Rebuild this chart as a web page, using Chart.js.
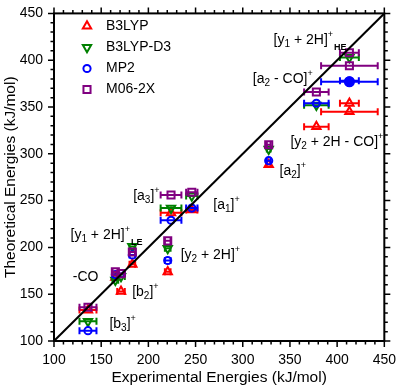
<!DOCTYPE html>
<html><head><meta charset="utf-8">
<script src="https://cdn.jsdelivr.net/npm/chart.js@4.4.0/dist/chart.umd.min.js"></script>
<style>html,body{margin:0;padding:0;background:#fff;}</style>
</head><body>
<canvas id="c" width="401" height="388" style="display:block;width:401px;height:388px"></canvas>
<script>
// ---- data ----
const fragments = ['[b3]+', '-CO', '[b2]+', '[y1 + 2H]+ LE', '[y2 + 2H]+', '[a3]+', '[a1]+', '[a2]+', '[a2 - CO]+', '[y2 + 2H - CO]+', '[y1 + 2H]+ HE'];
const expEnergy = [136, 165, 171, 183, 220.5, 224, 246, 327.5, 378, 413, 413];
const expError  = [9, 3, 4, 3, 3, 11, 6, 2, 13, 30, 10];
const b3lyp   = [133, 168, 153, 182, 174, 237, 240, 288.5, 329, 345, 354];
const b3lypD3 = [121, 165, 169, 201, 199, 242, 255, 305, 352, null, 403];
const mp2     = [111, 171, 172, 192, 186, 229, 242, 292.7, 354, 377, 378];
const m062x   = [136, 174, 172, 195, 207, 256, 259, 309.6, 366, 394, 408];
const axisTicks = [100, 150, 200, 250, 300, 350, 400, 450];
const diagonal = [100, 450];

const FONT = "'Liberation Sans', Arial, sans-serif";

function build(vals) {
  const out = [];
  vals.forEach((v, i) => { if (v !== null) out.push({x: expEnergy[i], y: v, xErr: expError[i]}); });
  return out;
}

// ---- annotations (text, placed in data coordinates) ----
// part kinds: 0 normal, -1 subscript, 1 superscript, 2 bold small subscript
const annotations = [
  {x: 332.7, y: 422.5, parts: [['[y',0],['1',-1],[' + 2H]',0],['+',1],['HE',2]]},
  {x: 310.7, y: 381.5, parts: [['[a',0],['2',-1],[' - CO]',0],['+',1]]},
  {x: 350.5, y: 313.5, parts: [['[y',0],['2',-1],[' + 2H - CO]',0],['+',1]]},
  {x: 339.0, y: 283.0, parts: [['[a',0],['2',-1],[']',0],['+',1]]},
  {x: 268.8, y: 246.0, parts: [['[a',0],['1',-1],[']',0],['+',1]]},
  {x: 183.9, y: 255.5, parts: [['[a',0],['3',-1],[']',0],['+',1]]},
  {x: 117.5, y: 214.5, parts: [['[y',0],['1',-1],[' + 2H]',0],['+',1],['LE',2]]},
  {x: 234.2, y: 192.5, parts: [['[y',0],['2',-1],[' + 2H]',0],['+',1]]},
  {x: 119.9, y: 169.5, parts: [['-CO',0]]},
  {x: 182.8, y: 153.5, parts: [['[b',0],['2',-1],[']',0],['+',1]]},
  {x: 158.7, y: 119.0, parts: [['[b',0],['3',-1],[']',0],['+',1]]}
];

const series = [
  {label: 'B3LYP', vals: b3lyp, color: '#ff0000', style: 'triangle', rot: 0, r: 4.8, order: 4},
  {label: 'B3LYP-D3', vals: b3lypD3, color: '#008000', style: 'triangle', rot: 180, r: 4.8, order: 3},
  {label: 'MP2', vals: mp2, color: '#0000ff', style: 'circle', rot: 0, r: 3.6, order: 2},
  {label: 'M06-2X', vals: m062x, color: '#800080', style: 'rect', rot: 0, r: 5, order: 1}
];

const datasets = series.map(s => ({
  label: s.label,
  data: build(s.vals),
  borderColor: s.color,
  backgroundColor: 'rgba(0,0,0,0)',
  // the wide-error MP2 point is drawn as a solid, slightly larger dot in the reference
  pointBackgroundColor: c => (s.label === 'MP2' && c.raw && c.raw.xErr >= 30) ? s.color : 'rgba(0,0,0,0)',
  pointRadius: c => (s.label === 'MP2' && c.raw && c.raw.xErr >= 30) ? 4.6 : s.r,
  pointStyle: s.style,
  rotation: s.rot,
  pointBorderWidth: 2,
  order: s.order,
  errorBars: true
}));
datasets.push({
  type: 'line', label: 'y = x',
  data: diagonal.map(v => ({x: v, y: v})),
  borderColor: '#000', borderWidth: 2, pointRadius: 0, order: 0, fill: false
});

const errorBarPlugin = {
  id: 'errbars',
  beforeDatasetDraw(chart, args) {
    const ds = chart.data.datasets[args.index];
    if (!ds.errorBars) return;
    const ctx = chart.ctx, xs = chart.scales.x;
    ctx.save();
    ctx.strokeStyle = ds.borderColor; ctx.lineWidth = 2;
    args.meta.data.forEach((pt, i) => {
      const raw = ds.data[i];
      const x1 = xs.getPixelForValue(raw.x - raw.xErr), x2 = xs.getPixelForValue(raw.x + raw.xErr);
      const y = pt.y;
      ctx.beginPath();
      ctx.moveTo(x1, y); ctx.lineTo(x2, y);
      ctx.moveTo(x1, y - 3.5); ctx.lineTo(x1, y + 3.5);
      ctx.moveTo(x2, y - 3.5); ctx.lineTo(x2, y + 3.5);
      ctx.stroke();
    });
    ctx.restore();
  }
};

const framePlugin = {
  id: 'frame',
  afterDraw(chart) {
    const ctx = chart.ctx, a = chart.chartArea, xs = chart.scales.x, ys = chart.scales.y;
    ctx.save();
    ctx.strokeStyle = '#000';
    ctx.lineWidth = 2;
    ctx.strokeRect(a.left, a.top, a.right - a.left, a.bottom - a.top);
    ctx.lineWidth = 1.5;
    ctx.beginPath();
    for (let v = 100; v <= 450; v += 10) {
      const major = axisTicks.includes(v);
      const len = major ? 6 : 3.5;
      const px = xs.getPixelForValue(v), py = ys.getPixelForValue(v);
      ctx.moveTo(px, a.bottom); ctx.lineTo(px, a.bottom + len);
      ctx.moveTo(px, a.top); ctx.lineTo(px, a.top - len);
      ctx.moveTo(a.left, py); ctx.lineTo(a.left - len, py);
      ctx.moveTo(a.right, py); ctx.lineTo(a.right + len, py);
    }
    ctx.stroke();

    // legend
    const lx = 87, ly = [26, 47.5, 68.5, 89.5];
    series.forEach((s, i) => {
      ctx.strokeStyle = s.color; ctx.fillStyle = 'rgba(0,0,0,0)'; ctx.lineWidth = 2;
      Chart.helpers.drawPoint(ctx, {pointStyle: s.style, rotation: s.rot, radius: s.r, borderWidth: 2}, lx, ly[i]);
      ctx.fillStyle = '#000';
      ctx.font = '14px ' + FONT;
      ctx.textBaseline = 'middle'; ctx.textAlign = 'left';
      ctx.fillText(s.label, 106, ly[i]);
    });

    // annotations
    ctx.fillStyle = '#000'; ctx.textBaseline = 'alphabetic'; ctx.textAlign = 'left';
    annotations.forEach(an => {
      let x = xs.getPixelForValue(an.x);
      const base = ys.getPixelForValue(an.y) + 5;
      an.parts.forEach(([t, k]) => {
        let f, dy;
        if (k === 0) { f = '14px ' + FONT; dy = 0; }
        else if (k === -1) { f = '10px ' + FONT; dy = 3; }
        else if (k === 1) { f = '9px ' + FONT; dy = -7; }
        else { f = 'bold 9px ' + FONT; dy = 6; }
        ctx.font = f;
        ctx.fillText(t, x, base + dy);
        x += ctx.measureText(t).width + (k === 1 ? 1 : 0);
      });
    });
    ctx.restore();
  }
};

new Chart(document.getElementById('c'), {
  type: 'scatter',
  data: {datasets},
  options: {
    responsive: false,
    animation: false,
    events: [],
    layout: {padding: {top: 7, right: 13, left: 0, bottom: 0}},
    plugins: {legend: {display: false}, tooltip: {enabled: false}},
    scales: {
      x: {
        type: 'linear', min: 100, max: 450,
        afterBuildTicks: s => { s.ticks = axisTicks.map(v => ({value: v})); },
        afterFit: s => { s.height = 47; },
        grid: {display: false, drawTicks: true, tickLength: 6},
        border: {display: false},
        ticks: {color: '#000', font: {size: 14, family: FONT}, padding: 5, maxRotation: 0},
        title: {display: true, text: 'Experimental Energies (kJ/mol)', color: '#000', font: {size: 15.5, family: FONT}, padding: {top: 0, bottom: 1}}
      },
      y: {
        type: 'linear', min: 100, max: 450,
        afterBuildTicks: s => { s.ticks = axisTicks.map(v => ({value: v})); },
        afterFit: s => { s.width = 54; },
        grid: {display: false, drawTicks: true, tickLength: 6},
        border: {display: false},
        ticks: {color: '#000', font: {size: 14, family: FONT}, padding: 5},
        title: {display: true, text: 'Theoretical Energies (kJ/mol)', color: '#000', font: {size: 15.5, family: FONT}, padding: {top: 1, bottom: 0}}
      }
    }
  },
  plugins: [errorBarPlugin, framePlugin]
});
</script>
</body></html>
